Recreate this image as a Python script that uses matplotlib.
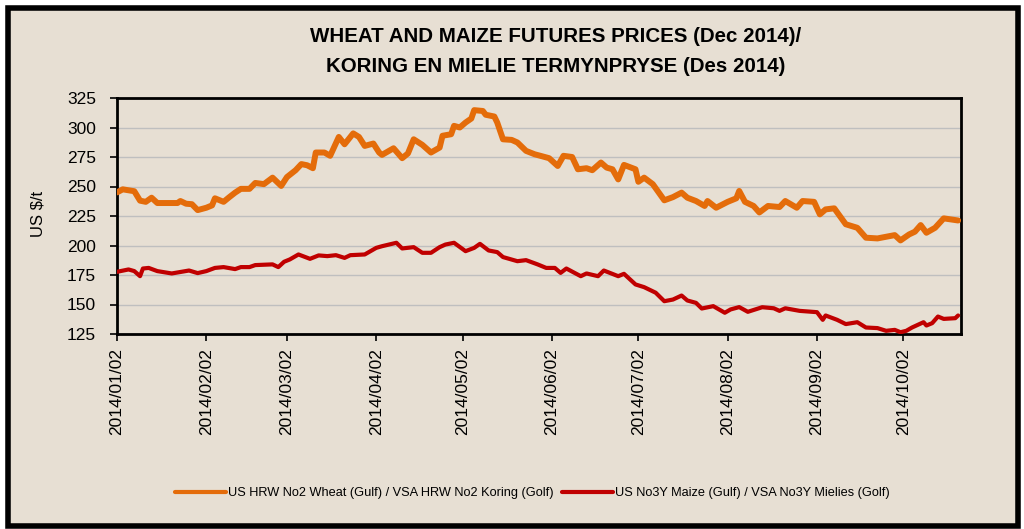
import matplotlib
matplotlib.use("Agg")
import matplotlib.pyplot as plt
import matplotlib.dates as mdates
from matplotlib.patches import Rectangle
import pandas as pd

# series data (days after 2014/01/02, US $/t)
start = pd.Timestamp("2014-01-02")

wheat_day = [0, 2, 6, 8, 10, 12, 14, 17, 21, 22, 24, 26, 28, 31, 33, 34, 37, 39, 41, 43,
             46, 48, 51, 54, 57, 59, 62, 64, 66, 68, 69, 72, 74, 77, 79, 82, 84, 86, 89, 91,
             92, 96, 99, 101, 103, 106, 109, 112, 113, 116, 117, 119, 121, 123, 124, 127, 128, 131, 132, 134,
             137, 139, 142, 145, 147, 150, 153, 155, 158, 160, 163, 165, 168, 170, 172, 174, 176, 180, 181, 183,
             186, 190, 193, 196, 198, 201, 204, 205, 208, 212, 215, 216, 218, 221, 223, 226, 230, 232, 236, 238,
             242, 244, 246, 249, 253, 257, 260, 264, 270, 272, 275, 277, 279, 281, 284, 287, 292]
wheat_usd = [245, 247.6, 246, 238, 237, 240.5, 236, 236, 236, 237.7, 235.4, 235, 230, 232, 234, 240, 237, 241, 244.8, 248,
             248, 253, 252, 257.5, 250.5, 258, 263.8, 269, 268, 265.5, 278.8, 278.8, 276, 292, 285.8, 295, 292, 284.4, 286.4, 278.8,
             276.8, 282.4, 274, 278, 290, 285.3, 278.8, 283, 293, 294.3, 301.4, 300, 304.2, 307.6, 314.7, 314, 310.8, 309.3, 304.2, 290,
             289.5, 287.3, 280.2, 277.3, 276, 274, 267.4, 276, 275, 264.6, 265.5, 263.8, 270.3, 266, 264.6, 256, 268.3, 264.6, 254, 257.5,
             252, 238.3, 241, 244.8, 240.5, 237.7, 233.5, 237.7, 232, 237, 240, 246.2, 237, 233.5, 228, 233.5, 232.6, 237.7, 232, 237.7,
             237, 226.4, 230.6, 231.5, 218, 215, 206.6, 206, 208.8, 204.3, 209.4, 211.7, 217.3, 210.8, 215, 223, 221.2]

maize_day = [0, 4, 6, 8, 9, 11, 14, 19, 25, 28, 31, 34, 37, 41, 43, 46, 48, 54, 56, 58,
             60, 63, 67, 70, 73, 76, 79, 81, 86, 90, 92, 97, 99, 103, 106, 109, 112, 114, 117, 121,
             124, 126, 129, 132, 134, 139, 142, 146, 149, 152, 154, 156, 161, 163, 167, 169, 174, 176, 180, 183,
             187, 190, 193, 196, 198, 201, 203, 207, 211, 213, 216, 219, 224, 228, 230, 232, 237, 243, 245, 246,
             250, 253, 257, 260, 264, 267, 270, 272, 274, 276, 280, 281, 283, 285, 287, 291, 292]
maize_usd = [177.7, 179.7, 178.3, 174, 180.5, 181, 178.3, 176.3, 178.8, 176.6, 178.3, 181, 181.7, 180, 181.7, 181.7, 183.4, 184, 181.7, 186.2,
             188.2, 192.4, 188.7, 191.6, 191, 191.8, 189.5, 191.8, 192.4, 198, 199.4, 202.3, 197.5, 198.6, 193.8, 193.8, 198.6, 200.8, 202.3, 195.2,
             198, 201.4, 195.8, 194.4, 190.2, 186.7, 187.6, 184, 181, 181, 176.8, 180.5, 174, 176.3, 174, 178.8, 174, 176, 167, 164.7,
             160, 152.8, 154.2, 157.6, 153.4, 151.4, 146.6, 148.6, 143, 145.8, 147.8, 143.8, 147.7, 146.8, 144.6, 146.8, 144.6, 143.5, 137, 140.7,
             137, 133.4, 135, 130.5, 130, 127.7, 128.5, 126.5, 127.7, 130.5, 135, 132.2, 134.2, 139.8, 137.8, 138.4, 140.7]

wheat_label = "US HRW No2 Wheat (Gulf) / VSA HRW No2 Koring (Golf)"
maize_label = "US No3Y Maize (Gulf) / VSA No3Y Mielies (Golf)"
title1 = "WHEAT AND MAIZE FUTURES PRICES (Dec 2014)/"
title2 = "KORING EN MIELIE TERMYNPRYSE (Des 2014)"

wheat_dates = start + pd.to_timedelta(wheat_day, unit="D")
maize_dates = start + pd.to_timedelta(maize_day, unit="D")

plt.rcParams['font.family'] = ['Liberation Sans', 'DejaVu Sans']

fig = plt.figure(figsize=(10.24, 5.29), dpi=100, facecolor="white")

# beige panel with heavy black frame
fig.patches.append(Rectangle((7.5 / 1024, 3.5 / 529), 1010 / 1024, 518 / 529,
                             transform=fig.transFigure, facecolor="#e7dfd3",
                             edgecolor="black", linewidth=4, zorder=-5))

ax = fig.add_axes([117 / 1024, 195 / 529, 844 / 1024, 236 / 529])
ax.set_zorder(2)
ax.patch.set_alpha(0)

ax.plot(wheat_dates, wheat_usd, color="#e46c0a", lw=4.3,
        solid_joinstyle="round", solid_capstyle="round", label=wheat_label, zorder=3)
ax.plot(maize_dates, maize_usd, color="#c00000", lw=3.0,
        solid_joinstyle="round", solid_capstyle="round", label=maize_label, zorder=3)

ax.set_ylim(125, 325)
ax.set_yticks(range(125, 326, 25))
ax.set_xlim(start, start + pd.Timedelta(days=293))
ax.xaxis.set_major_locator(mdates.MonthLocator(bymonthday=2))
ax.xaxis.set_major_formatter(mdates.DateFormatter("%Y/%m/%d"))

ax.grid(axis="y", color="#bfbfbf", lw=1)
ax.set_axisbelow(True)
for s in ax.spines.values():
    s.set_color("black")
    s.set_linewidth(2)

ax.tick_params(axis="y", direction="out", length=5, width=1.2, pad=10, labelsize=12.5)
ax.tick_params(axis="x", direction="out", length=5, width=1.2, pad=5, labelsize=12.5,
               labelrotation=90)

fig.text(37.5 / 1024, 0.596, "US $/t", rotation=90, ha="center", va="center", fontsize=12)

fig.text(0.543, 1 - 36 / 529, title1, ha="center", va="center", fontsize=14.8,
         fontweight="bold")
fig.text(0.543, 1 - 66 / 529, title2, ha="center", va="center", fontsize=14.8,
         fontweight="bold")

leg = fig.legend(loc="center", bbox_to_anchor=(0.52, 1 - 493 / 529), ncol=2,
                 frameon=False, handlelength=4.0, handletextpad=0.2, columnspacing=0.6,
                 prop={"size": 9.2})
for h in leg.get_lines():
    h.set_linewidth(3)

fig.savefig("out.png", dpi=100, facecolor=fig.get_facecolor())
